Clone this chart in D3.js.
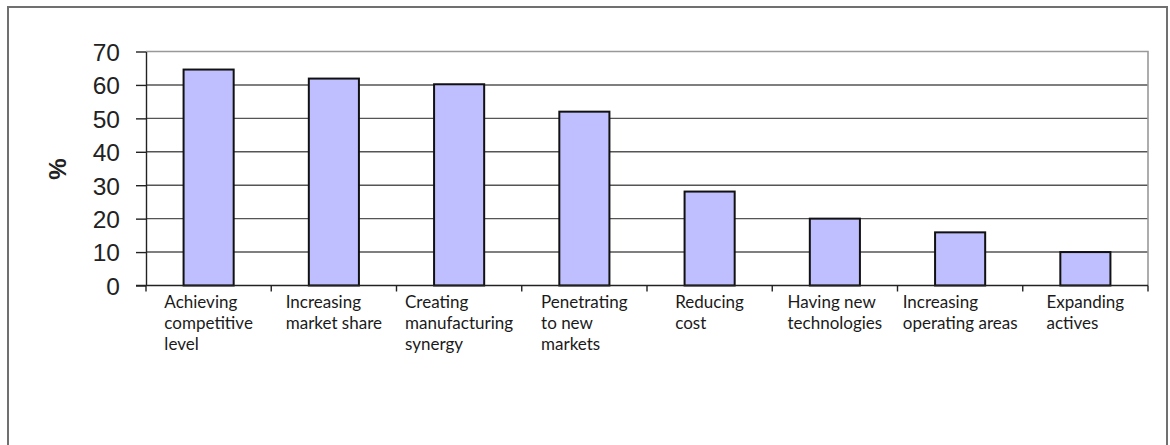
<!DOCTYPE html>
<html>
<head>
<meta charset="utf-8">
<script src="https://cdn.jsdelivr.net/npm/d3@7/dist/d3.min.js"></script>
<style>
  html, body { margin: 0; padding: 0; background: #fff; }
  svg { display: block; }
</style>
</head>
<body>
<svg id="chart" width="1170" height="445"></svg>
<script>
// ---- data ----
const categories = [
  ["Achieving", "competitive", "level"],
  ["Increasing", "market share"],
  ["Creating", "manufacturing", "synergy"],
  ["Penetrating", "to new", "markets"],
  ["Reducing", "cost"],
  ["Having new", "technologies"],
  ["Increasing", "operating areas"],
  ["Expanding", "actives"]
];
const values = [64.6, 61.9, 60.2, 52, 28.1, 20, 15.9, 10];
const yTicks = [0, 10, 20, 30, 40, 50, 60, 70];
const yLabel = "%";

// ---- layout ----
const svg = d3.select("#chart");
const plotLeft = 146, plotRight = 1148, plotTop = 51.5, plotBottom = 285.5;

// outer frame (open at bottom)
svg.append("path")
  .attr("d", `M8,445 L8,7 L1167,7 L1167,445`)
  .attr("fill", "none").attr("stroke", "#707070").attr("stroke-width", 2);

const x = d3.scaleBand().domain(d3.range(categories.length)).range([plotLeft, plotRight]).paddingInner(0.6).paddingOuter(0.3);
const xb = d3.scaleBand().domain(d3.range(categories.length)).range([plotLeft, plotRight]);
const y = d3.scaleLinear().domain([0, 70]).range([plotBottom, plotTop]);

// gridlines
svg.append("g").selectAll("line").data(yTicks.filter(t => t > 0 && t < 70)).join("line")
  .attr("x1", plotLeft).attr("x2", plotRight)
  .attr("y1", d => y(d)).attr("y2", d => y(d))
  .attr("stroke", "#555").attr("stroke-width", 1.4);

// plot border top/right
svg.append("path")
  .attr("d", `M${plotLeft},${y(70)} L${plotRight},${y(70)} L${plotRight},${plotBottom}`)
  .attr("fill", "none").attr("stroke", "#999").attr("stroke-width", 1.6);

// bars
svg.append("g").selectAll("rect").data(values).join("rect")
  .attr("x", (d, i) => x(i))
  .attr("width", x.bandwidth())
  .attr("y", d => y(d))
  .attr("height", d => y(0) - y(d))
  .attr("fill", "#bfbfff")
  .attr("stroke", "#111").attr("stroke-width", 2);

// y axis
const yAxis = d3.axisLeft(y).tickValues(yTicks).tickSize(10).tickPadding(16).tickSizeOuter(0);
const gy = svg.append("g").attr("transform", `translate(${plotLeft},0)`).call(yAxis);
gy.select(".domain").attr("stroke", "#222").attr("stroke-width", 1.4);
gy.selectAll(".tick line").attr("stroke", "#222").attr("stroke-width", 1.4);
gy.selectAll(".tick text")
  .attr("font-family", "'Liberation Sans', Arial, sans-serif")
  .attr("font-size", 24.5).attr("fill", "#222").attr("dy", "0.36em");

// x axis line and ticks at band boundaries
const boundaries = d3.range(categories.length + 1).map(i => i < categories.length ? xb(i) : plotRight);
svg.append("line").attr("x1", plotLeft - 10).attr("x2", plotRight).attr("y1", plotBottom).attr("y2", plotBottom)
  .attr("stroke", "#222").attr("stroke-width", 1.4);
svg.append("g").selectAll("line").data(boundaries).join("line")
  .attr("x1", d => d).attr("x2", d => d)
  .attr("y1", plotBottom).attr("y2", plotBottom + 6)
  .attr("stroke", "#222").attr("stroke-width", 1.4);

// x labels: left-aligned block centered on band
const lg = svg.append("g");
categories.forEach((lines, i) => {
  const t = lg.append("text")
    .attr("font-family", "Lato, 'Open Sans', sans-serif")
    .attr("font-size", 17).attr("fill", "#1a1a1a");
  lines.forEach((ln, j) => {
    t.append("tspan").attr("x", 0).attr("y", 308 + j * 21).text(ln);
  });
  const w = t.node().getBBox().width;
  const cx = xb(i) + xb.bandwidth() / 2;
  t.attr("transform", `translate(${cx - w / 2},0)`);
});

// y label
svg.append("text")
  .attr("transform", `translate(66,169) rotate(-90)`)
  .attr("text-anchor", "middle")
  .attr("font-family", "'Liberation Sans', Arial, sans-serif")
  .attr("font-size", 24).attr("font-weight", "bold").attr("fill", "#222")
  .text(yLabel);
</script>
</body>
</html>
